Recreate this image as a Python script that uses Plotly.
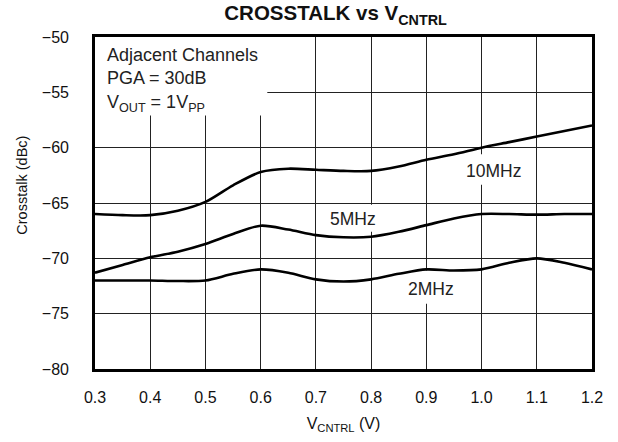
import plotly.graph_objects as go

# Control voltage (V)
v_cntrl = [0.30, 0.35, 0.40, 0.45, 0.50, 0.55, 0.60, 0.65, 0.70, 0.75,
           0.80, 0.85, 0.90, 0.95, 1.00, 1.05, 1.10, 1.15, 1.20]

# Adjacent-channel crosstalk (dBc) per input frequency
xtalk_10mhz = [-66.0, -66.1, -66.1, -65.7, -64.9, -63.4, -62.2, -61.9, -62.0, -62.1,
               -62.1, -61.7, -61.1, -60.6, -60.0, -59.5, -59.0, -58.5, -58.0]
xtalk_5mhz = [-71.3, -70.6, -69.9, -69.4, -68.7, -67.8, -67.05, -67.4, -67.9, -68.1,
              -68.05, -67.6, -67.0, -66.4, -66.0, -66.0, -66.05, -66.0, -66.0]
xtalk_2mhz = [-72.0, -72.0, -72.0, -72.05, -72.0, -71.4, -71.0, -71.3, -71.9, -72.1,
              -71.9, -71.4, -71.0, -71.1, -71.0, -70.4, -70.0, -70.4, -71.0]

series = [("10MHz", xtalk_10mhz), ("5MHz", xtalk_5mhz), ("2MHz", xtalk_2mhz)]

# Curve label placement (x, y in data units)
curve_labels = [("10MHz", 1.021, -62.1), ("5MHz", 0.768, -66.45), ("2MHz", 0.909, -72.8)]

# White patches that mask the grid behind text blocks
masks = [(0.30, 0.612, -50.0, -57.1),
         (0.961, 1.081, -60.6, -63.35),
         (0.718, 0.818, -65.15, -67.6),
         (0.858, 0.959, -71.1, -74.1)]

FONT = "Liberation Sans, Arial, Helvetica, sans-serif"

fig = go.Figure()
for name, ys in series:
    fig.add_trace(go.Scatter(
        x=v_cntrl, y=ys, name=name, mode="lines",
        line=dict(color="black", width=2.6, shape="spline", smoothing=0.8),
        showlegend=False, hoverinfo="skip",
    ))

for x0, x1, y0, y1 in masks:
    fig.add_shape(type="rect", xref="x", yref="y", x0=x0, x1=x1, y0=y0, y1=y1,
                  fillcolor="white", line=dict(width=0), layer="between")

for text, lx, ly in curve_labels:
    fig.add_annotation(x=lx, y=ly, xref="x", yref="y", text=text, showarrow=False,
                       font=dict(family=FONT, size=17.5, color="#222"),
                       xanchor="center", yanchor="middle")

fig.add_annotation(x=0.318, y=-50.5, xref="x", yref="y",
                   text="Adjacent Channels<br>PGA = 30dB<br>V<sub>OUT</sub> = 1V<sub>PP</sub>",
                   showarrow=False, align="left", xanchor="left", yanchor="top",
                   font=dict(family=FONT, size=18, color="#222"))

# Y-axis title, placed slightly above the plot's vertical centre
fig.add_annotation(x=-0.147, y=0.555, xref="paper", yref="paper",
                   text="Crosstalk (dBc)", textangle=-90, showarrow=False,
                   xanchor="center", yanchor="middle",
                   font=dict(family=FONT, size=14.5, color="#111"))

fig.update_layout(
    width=618, height=442,
    margin=dict(l=95, r=26, t=37, b=68),
    paper_bgcolor="white", plot_bgcolor="white",
    font=dict(family=FONT, size=16, color="#111"),
    title=dict(text="<b>CROSSTALK vs V<sub>CNTRL</sub></b>", x=0.543, xanchor="center",
               y=0.970, yanchor="middle", font=dict(family=FONT, size=20.5, color="#111")),
)

fig.update_xaxes(
    range=[0.3, 1.2], dtick=0.1, tick0=0.3, tickformat=".1f",
    showgrid=True, gridcolor="#222", gridwidth=1,
    showline=True, linecolor="black", linewidth=2.6, mirror=True,
    ticks="", ticklabelstandoff=12, zeroline=False,
    title=dict(text="V<sub>CNTRL</sub> (V)", font=dict(family=FONT, size=16), standoff=13),
)
fig.update_yaxes(
    range=[-80, -50], dtick=5, tick0=-80,
    showgrid=True, gridcolor="#222", gridwidth=1,
    showline=True, linecolor="black", linewidth=2.6, mirror=True,
    ticks="", ticklabelstandoff=20, zeroline=False,
)

fig.write_html("out.html")
